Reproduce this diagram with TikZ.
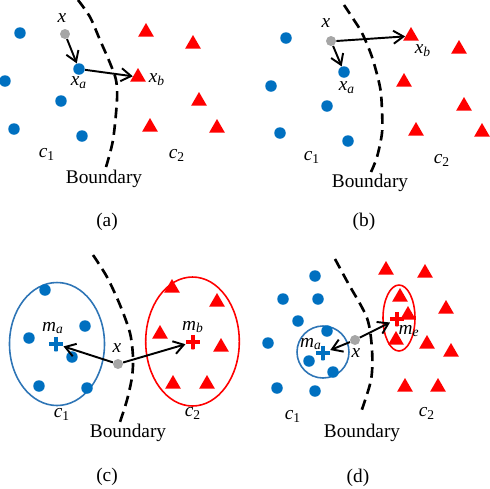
\documentclass[tikz,border=0pt]{standalone}
\usepackage{fontspec}
\setmainfont{Liberation Serif}
\usetikzlibrary{arrows.meta,positioning,shapes.geometric}
\definecolor{cblue}{RGB}{0,112,192}
\definecolor{cring}{RGB}{46,117,182}
\definecolor{cgray}{RGB}{166,166,166}
\definecolor{cred}{RGB}{255,0,0}
\tikzset{
  blue pt/.style={circle,fill=cblue,minimum size=0.23cm,inner sep=0pt},
  red pt/.style={regular polygon,regular polygon sides=3,fill=cred,minimum size=0.36cm,inner sep=0pt},
  test pt/.style={circle,fill=cgray,minimum size=0.2cm,inner sep=0pt},
  mean pt/.style={circle,minimum size=0.3cm,inner sep=0pt,
    path picture={\draw[#1,line width=1.8pt] (path picture bounding box.north)--(path picture bounding box.south)
      (path picture bounding box.west)--(path picture bounding box.east);}},
  near arrow/.style={-{Straight Barb[length=2mm,width=2.6mm]},line width=1.1pt},
  boundary line/.style={line width=1.5pt,dash pattern=on 6pt off 3.5pt},
  class ring/.style={line width=0.9pt},
  lbl/.style={font=\fontsize{11}{13}\selectfont\itshape,inner sep=0pt},
  panel tag/.style={font=\fontsize{11}{13}\selectfont,inner sep=0pt},
}

\begin{document}
\begin{tikzpicture}[x=0.02cm,y=-0.02cm]
  \useasboundingbox (0,0) rectangle (490,488);
  \begin{scope}
    \draw[boundary line] plot[smooth] coordinates {(78,0) (90,17) (100,40) (110,63) (116,80) (117,100) (113,140) (106,167)};
    \foreach \i/\x/\y in {1/20/33,2/5/81,3/61/101,4/14/129,5/82/136}
      \node[blue pt] (dA\i) at (\x,\y) {};
    \foreach \i/\x/\y in {1/146/32,2/193/44,3/199/101,4/150/127,5/217/128}
      \node[red pt] (tA\i) at (\x,\y) {};
    \node[blue pt] (xaA) at (79,69) {};
    \node[red pt] (xbA) at (138,77) {};
    \node[test pt] (xA) at (65,34) {};
    \node[lbl] at (62,18) {x};
    \node[lbl] at (79,83) {x\textsubscript{a}};
    \node[lbl] at (157,80) {x\textsubscript{b}};
    \draw[near arrow] (xA) -- (xaA);
    \draw[near arrow] (xaA) -- (xbA);
    \node[lbl] at (47,154) {c\textsubscript{\upshape 1}};
    \node[lbl] at (177,155) {c\textsubscript{\upshape 2}};
    \node[panel tag] at (104,179) {Boundary};
    \node[panel tag] at (107,222) {(a)};
  \end{scope}
  \begin{scope}[shift={(245,0)}]
    \draw[boundary line] plot[smooth] coordinates {(99,5) (107,17) (117,33) (127,57) (135,87) (137,110) (137,133) (132,157) (126,172)};
    \foreach \i/\x/\y in {1/41/38,2/26/86,3/82/106,4/35/133,5/103/141}
      \node[blue pt] (dB\i) at (\x,\y) {};
    \foreach \i/\x/\y in {1/214/49,2/159/82,3/219/106,4/171/131,5/237/132}
      \node[red pt] (tB\i) at (\x,\y) {};
    \node[blue pt] (xaB) at (99,72) {};
    \node[red pt] (xbB) at (166,36) {};
    \node[test pt] (xB) at (86,41) {};
    \node[lbl] at (81,23) {x};
    \node[lbl] at (102,88) {x\textsubscript{a}};
    \node[lbl] at (178,51) {x\textsubscript{b}};
    \draw[near arrow] (xB) -- (xaB);
    \draw[near arrow] (xB.east) -- (xbB);
    \node[lbl] at (67,157) {c\textsubscript{\upshape 1}};
    \node[lbl] at (197,160) {c\textsubscript{\upshape 2}};
    \node[panel tag] at (125,183) {Boundary};
    \node[panel tag] at (119,222) {(b)};
  \end{scope}
  \begin{scope}[shift={(0,240)}]
    \draw[boundary line] plot[smooth] coordinates {(93,15) (107,37) (120,65) (130,93) (133,117) (132,137) (127,160) (120,182)};
    \draw[class ring,cring] (57,104) ellipse [x radius=47.5,y radius=61.5];
    \draw[class ring,cred] (192.5,101.5) ellipse [x radius=46.8,y radius=64.5];
    \foreach \i/\x/\y in {1/45/50,2/85/86,3/29/98,4/72/117,5/39/146,6/87/148}
      \node[blue pt] (dC\i) at (\x,\y) {};
    \foreach \i/\x/\y in {1/172/48,2/217/62,3/160/94,4/221/107,5/173/144,6/207/144}
      \node[red pt] (tC\i) at (\x,\y) {};
    \node[mean pt=cblue] (maC) at (56,104) {};
    \node[mean pt=cred] (mbC) at (193,102) {};
    \node[test pt] (xC) at (118,124) {};
    \node[lbl] at (117,108) {x};
    \node[lbl] at (53,88) {m\textsubscript{a}};
    \node[lbl] at (193,87) {m\textsubscript{b}};
    \draw[near arrow] (xC) -- (maC);
    \draw[near arrow] (xC) -- (mbC);
    \node[lbl] at (62,174) {c\textsubscript{\upshape 1}};
    \node[lbl] at (193,173) {c\textsubscript{\upshape 2}};
    \node[panel tag] at (128,193) {Boundary};
    \node[panel tag] at (107,237) {(c)};
  \end{scope}
  \begin{scope}[shift={(245,240)}]
    \draw[boundary line] plot[smooth] coordinates {(90,19) (103,43) (122,78) (127,110) (126,140) (115,175)};
    \draw[class ring,cring] (78,112) circle [radius=26];
    \draw[class ring,cred] (154,78) ellipse [x radius=16,y radius=33];
    \foreach \i/\x/\y in {1/70/36,2/38/59,3/73/59,4/53/81,5/82/91,6/23/103,7/64/121,8/88/132,9/32/148,10/70/151}
      \node[blue pt] (dD\i) at (\x,\y) {};
    \foreach \i/\x/\y in {1/141/30,2/180/33,3/155/57,4/201/69,5/163/75,6/151/100,7/182/104,8/206/112,9/160/147,10/193/147}
      \node[red pt] (tD\i) at (\x,\y) {};
    \node[mean pt=cblue] (maD) at (78,113) {};
    \node[mean pt=cred] (mbD) at (152,79) {};
    \node[test pt] (xD) at (110,100) {};
    \node[lbl] at (111,113) {x};
    \node[lbl] at (66,104) {m\textsubscript{a}};
    \node[lbl] at (164,91) {m\textsubscript{e}};
    \draw[near arrow] (xD) -- (maD);
    \draw[near arrow] (xD) -- (mbD);
    \node[lbl] at (48,176) {c\textsubscript{\upshape 1}};
    \node[lbl] at (182,173) {c\textsubscript{\upshape 2}};
    \node[panel tag] at (117,193) {Boundary};
    \node[panel tag] at (113,238) {(d)};
  \end{scope}
\end{tikzpicture}
\end{document}
